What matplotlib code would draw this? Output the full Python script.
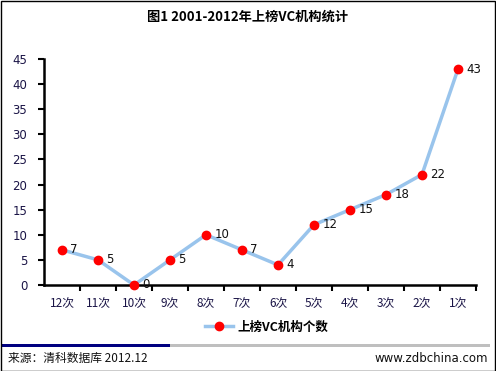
import numpy as np
import matplotlib
matplotlib.use("Agg")
import matplotlib.pyplot as plt
from matplotlib.patches import Rectangle
from matplotlib.lines import Line2D

plt.rcParams['font.family'] = ['Noto Sans CJK SC', 'DejaVu Sans']

categories = ["12次", "11次", "10次", "9次", "8次", "7次", "6次", "5次", "4次", "3次", "2次", "1次"]
values = [7, 5, 0, 5, 10, 7, 4, 12, 15, 18, 22, 43]
yticks = [0, 5, 10, 15, 20, 25, 30, 35, 40, 45]
title = "图1 2001-2012年上榜VC机构统计"
series_name = "上榜VC机构个数"
source = "来源：清科数据库 2012.12"
site = "www.zdbchina.com"

W, H = 496, 371
fig = plt.figure(figsize=(W/100, H/100), dpi=100)

def fx(px): return px / W
def fy(py): return 1 - py / H

ax = fig.add_axes([fx(44), fy(285), fx(476) - fx(44), fy(59) - fy(285)])

x = np.arange(len(values), dtype=float)
y = np.array(values, dtype=float)

ax.plot(x, y, color="#99c4ec", lw=2.5, solid_capstyle='round', zorder=2, clip_on=False)
ax.plot(x, y, 'o', color="#ff0000", ms=6, zorder=3, clip_on=False)

for xi, yi in zip(x, y):
    ax.annotate(str(int(yi)), (xi, yi), xytext=(6, 0), textcoords='offset points',
                ha='left', va='center', fontsize=8.5, color='#111111', family=['DejaVu Sans'])

ax.set_xlim(-0.5, len(values) - 0.5)
ax.set_ylim(0, 45)
ax.set_yticks(yticks)
ax.set_yticklabels([str(v) for v in yticks], family=['DejaVu Sans'], fontsize=8.5, color='#1a1446')
ax.set_xticks(x)
ax.set_xticklabels(categories, fontsize=8.5, color='#1a1446')
ax.set_xticks(np.arange(0.5, len(values) - 0.5 + 1e-9, 1.0), minor=True)
ax.tick_params(axis='x', which='major', length=0, pad=9)
ax.tick_params(axis='x', which='minor', length=4, width=1.5, direction='out')
ax.tick_params(axis='y', length=4, width=1.5, direction='out', pad=8)
for s in ['top', 'right']:
    ax.spines[s].set_visible(False)
for s in ['left', 'bottom']:
    ax.spines[s].set_linewidth(1.8)
    ax.spines[s].set_color('black')
ax.patch.set_alpha(0)

fig.text(0.5, fy(17), title, ha='center', va='center', fontsize=9.5, fontweight='bold')

# legend
leg_handle = Line2D([], [], color="#99c4ec", lw=2.5, marker='o', mfc='#ff0000', mec='#ff0000', ms=6)
fig.legend([leg_handle], [series_name], loc='center', bbox_to_anchor=(fx(267), fy(327)),
           frameon=False, prop={'weight': 'bold', 'size': 9}, handlelength=2.2, handletextpad=0.4)

# footer bars
fig.add_artist(Rectangle((fx(2), fy(347)), fx(170) - fx(2), 3/H, transform=fig.transFigure,
                         color='#000080', lw=0))
fig.add_artist(Rectangle((fx(170), fy(347)), fx(490) - fx(170), 3/H, transform=fig.transFigure,
                         color='#bfbfbf', lw=0))
fig.text(fx(8), fy(358), source, ha='left', va='center', fontsize=8.5, color='#111111')
fig.text(fx(488), fy(358), site, ha='right', va='center', fontsize=8.5, color='#111111',
         family=['DejaVu Sans'])

# outer border
fig.add_artist(Rectangle((0.5/W, 0.5/H), 1 - 1.5/W, 1 - 1.5/H, transform=fig.transFigure,
                         fill=False, ec='black', lw=1))

fig.savefig("out.png", dpi=100)
